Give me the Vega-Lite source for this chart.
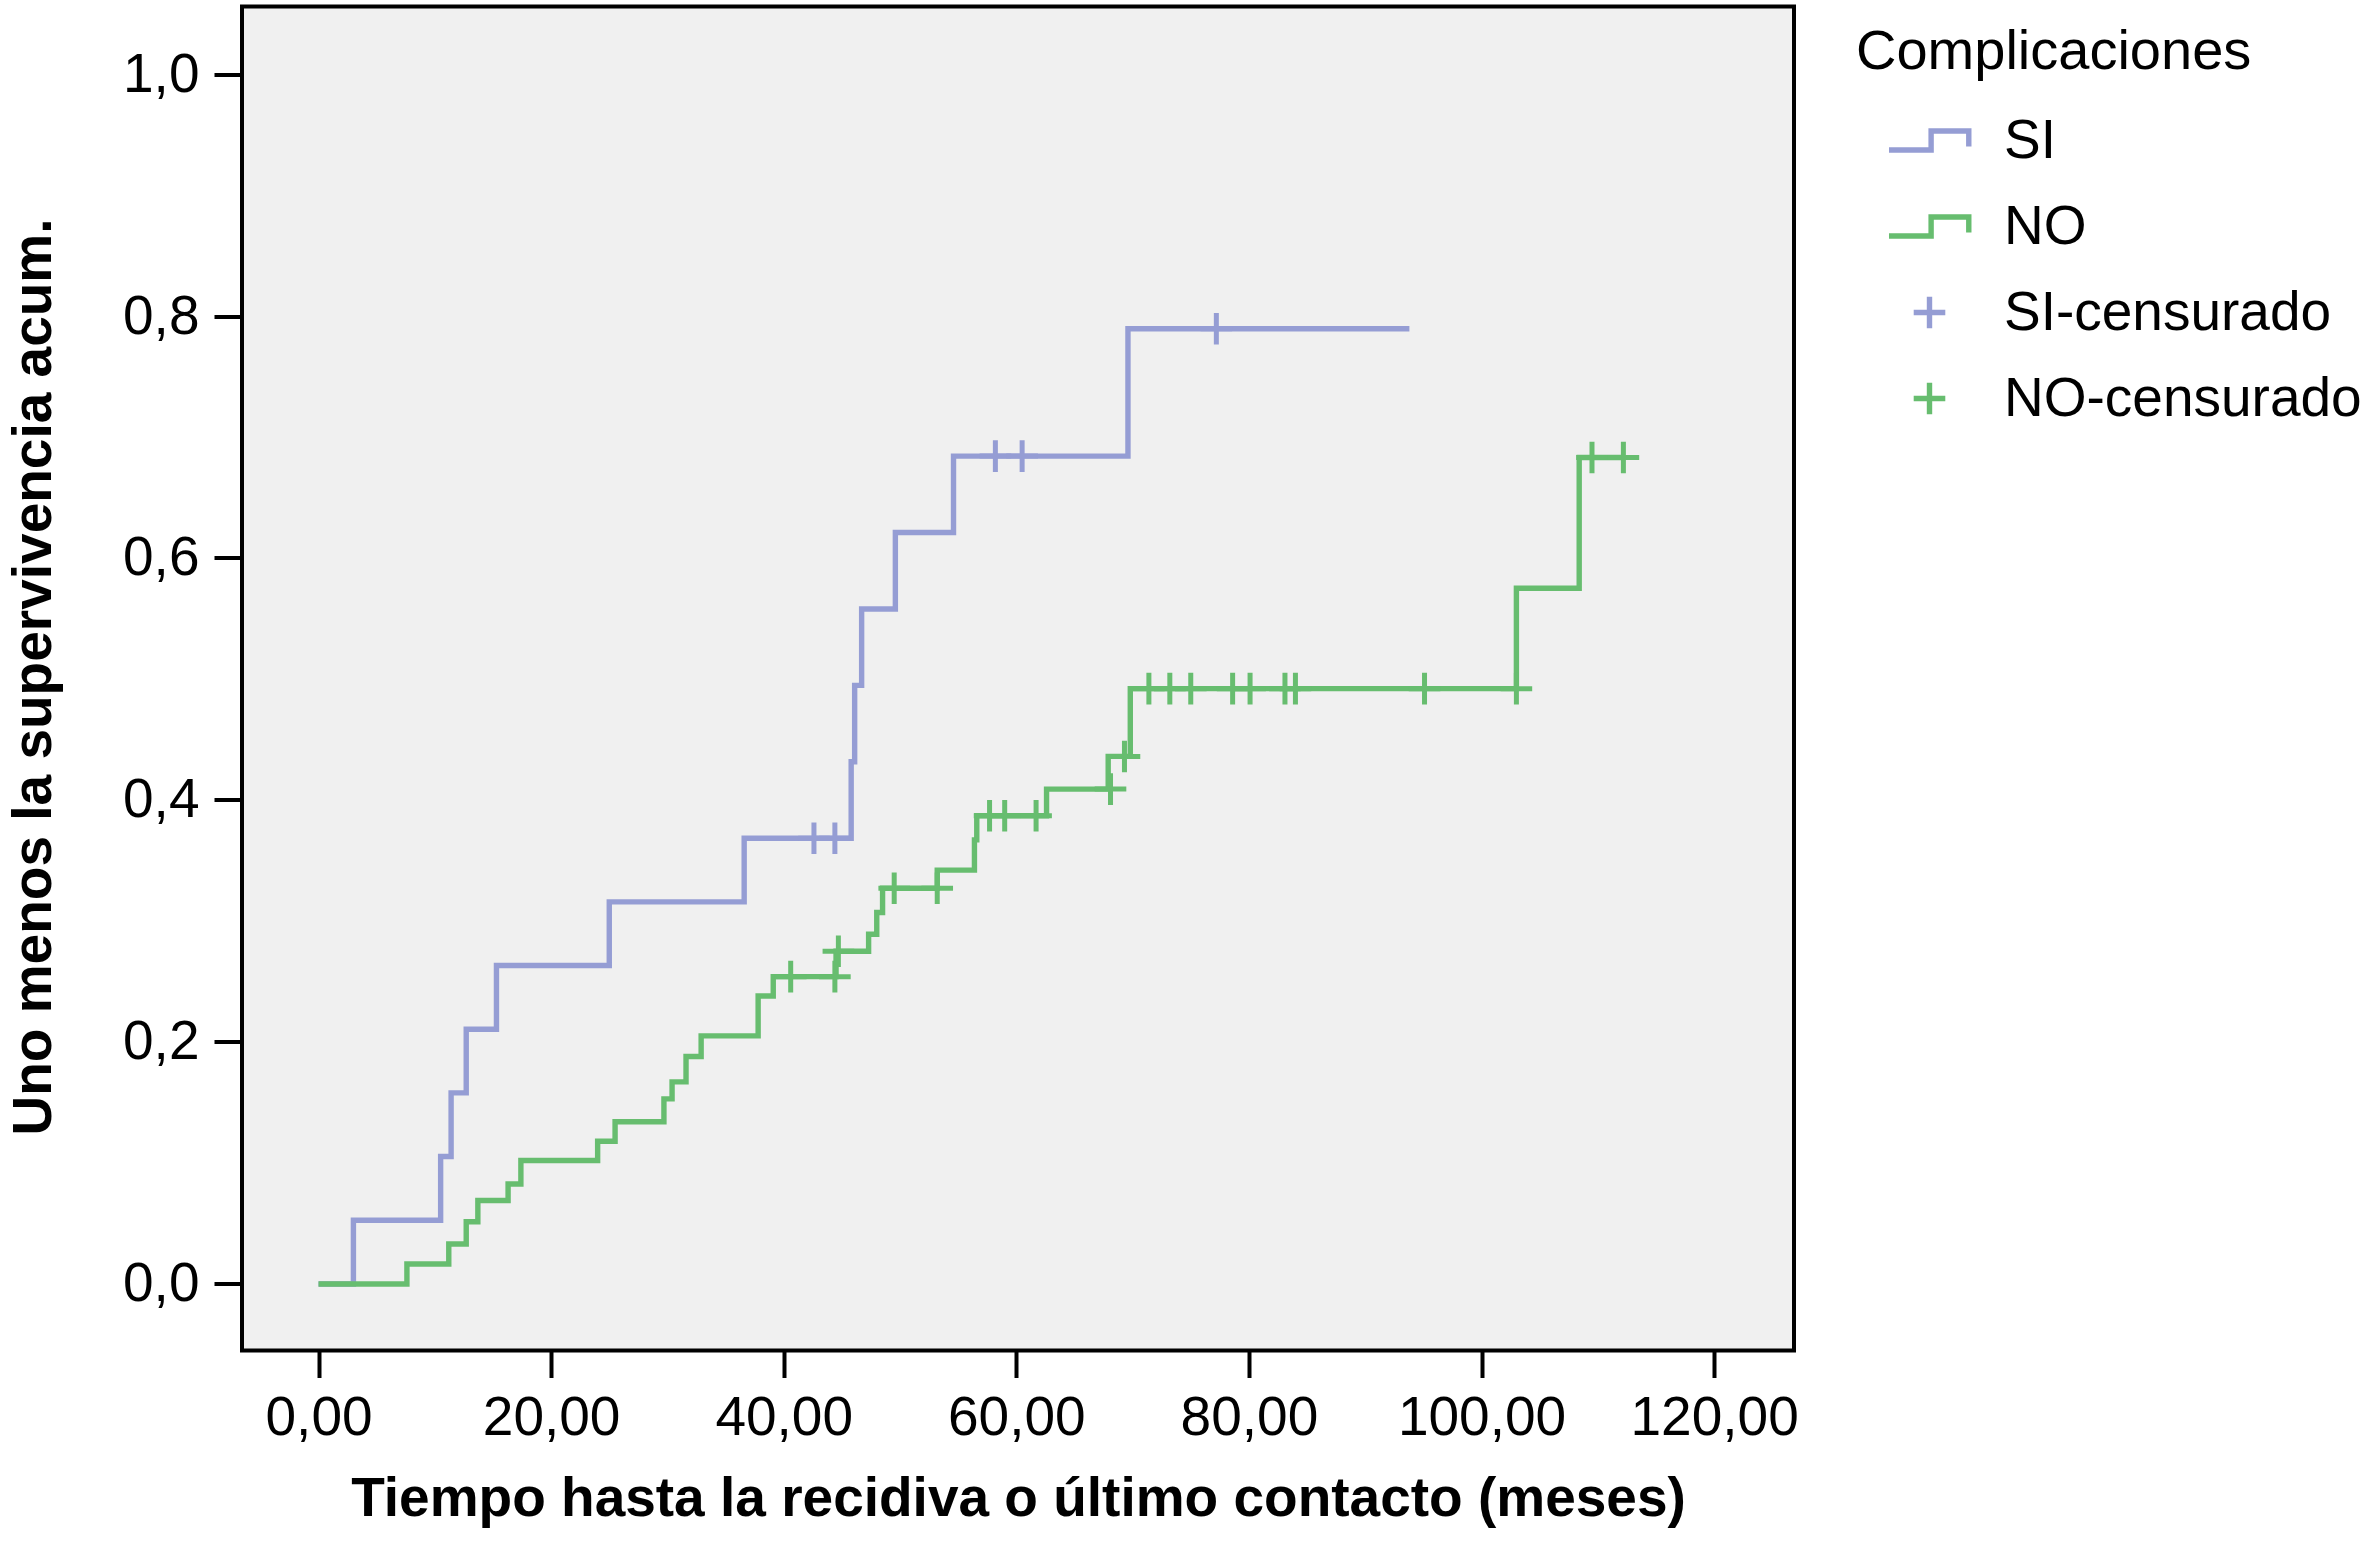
{
  "$schema": "https://vega.github.io/schema/vega-lite/v6.json",
  "autosize": {"type": "none"},
  "padding": {"left": 242, "top": 6.5, "right": 574, "bottom": 191.5},
  "width": 1552,
  "height": 1344,
  "background": "white",
  "datasets": {
    "curvas": [
      {"grupo": "SI", "t": 0, "v": 0},
      {"grupo": "SI", "t": 3.0, "v": 0.0526},
      {"grupo": "SI", "t": 10.5, "v": 0.1053},
      {"grupo": "SI", "t": 11.4, "v": 0.1579},
      {"grupo": "SI", "t": 12.7, "v": 0.2105},
      {"grupo": "SI", "t": 15.3, "v": 0.2632},
      {"grupo": "SI", "t": 25.0, "v": 0.3158},
      {"grupo": "SI", "t": 36.6, "v": 0.3684},
      {"grupo": "SI", "t": 45.8, "v": 0.4316},
      {"grupo": "SI", "t": 46.1, "v": 0.4947},
      {"grupo": "SI", "t": 46.7, "v": 0.5579},
      {"grupo": "SI", "t": 49.6, "v": 0.6211},
      {"grupo": "SI", "t": 54.6, "v": 0.6842},
      {"grupo": "SI", "t": 69.6, "v": 0.7895},
      {"grupo": "SI", "t": 93.8, "v": 0.7895},
      {"grupo": "NO", "t": 0, "v": 0},
      {"grupo": "NO", "t": 7.6, "v": 0.0165},
      {"grupo": "NO", "t": 11.2, "v": 0.033},
      {"grupo": "NO", "t": 12.7, "v": 0.0514},
      {"grupo": "NO", "t": 13.7, "v": 0.069},
      {"grupo": "NO", "t": 16.3, "v": 0.0826},
      {"grupo": "NO", "t": 17.4, "v": 0.102},
      {"grupo": "NO", "t": 24.0, "v": 0.118},
      {"grupo": "NO", "t": 25.5, "v": 0.134},
      {"grupo": "NO", "t": 29.7, "v": 0.153},
      {"grupo": "NO", "t": 30.4, "v": 0.167},
      {"grupo": "NO", "t": 31.6, "v": 0.188},
      {"grupo": "NO", "t": 32.9, "v": 0.205},
      {"grupo": "NO", "t": 37.8, "v": 0.238},
      {"grupo": "NO", "t": 39.1, "v": 0.254},
      {"grupo": "NO", "t": 44.5, "v": 0.275},
      {"grupo": "NO", "t": 47.3, "v": 0.289},
      {"grupo": "NO", "t": 48.0, "v": 0.307},
      {"grupo": "NO", "t": 48.5, "v": 0.327},
      {"grupo": "NO", "t": 53.2, "v": 0.342},
      {"grupo": "NO", "t": 56.4, "v": 0.367},
      {"grupo": "NO", "t": 56.6, "v": 0.387},
      {"grupo": "NO", "t": 62.6, "v": 0.409},
      {"grupo": "NO", "t": 67.9, "v": 0.436},
      {"grupo": "NO", "t": 69.8, "v": 0.492},
      {"grupo": "NO", "t": 103.0, "v": 0.575},
      {"grupo": "NO", "t": 108.4, "v": 0.683},
      {"grupo": "NO", "t": 112.2, "v": 0.683}
    ],
    "censuras": [
      {"leyenda": "SI-censurado", "t": 42.6, "v": 0.3684},
      {"leyenda": "SI-censurado", "t": 44.4, "v": 0.3684},
      {"leyenda": "SI-censurado", "t": 58.2, "v": 0.6842},
      {"leyenda": "SI-censurado", "t": 60.5, "v": 0.6842},
      {"leyenda": "SI-censurado", "t": 77.2, "v": 0.7895},
      {"leyenda": "NO-censurado", "t": 40.6, "v": 0.254},
      {"leyenda": "NO-censurado", "t": 44.4, "v": 0.254},
      {"leyenda": "NO-censurado", "t": 44.7, "v": 0.275},
      {"leyenda": "NO-censurado", "t": 49.5, "v": 0.327},
      {"leyenda": "NO-censurado", "t": 53.2, "v": 0.327},
      {"leyenda": "NO-censurado", "t": 57.7, "v": 0.387},
      {"leyenda": "NO-censurado", "t": 59.0, "v": 0.387},
      {"leyenda": "NO-censurado", "t": 61.7, "v": 0.387},
      {"leyenda": "NO-censurado", "t": 68.1, "v": 0.409},
      {"leyenda": "NO-censurado", "t": 69.3, "v": 0.436},
      {"leyenda": "NO-censurado", "t": 71.4, "v": 0.492},
      {"leyenda": "NO-censurado", "t": 73.2, "v": 0.492},
      {"leyenda": "NO-censurado", "t": 75.0, "v": 0.492},
      {"leyenda": "NO-censurado", "t": 78.6, "v": 0.492},
      {"leyenda": "NO-censurado", "t": 80.1, "v": 0.492},
      {"leyenda": "NO-censurado", "t": 83.1, "v": 0.492},
      {"leyenda": "NO-censurado", "t": 84.0, "v": 0.492},
      {"leyenda": "NO-censurado", "t": 95.1, "v": 0.492},
      {"leyenda": "NO-censurado", "t": 103.0, "v": 0.492},
      {"leyenda": "NO-censurado", "t": 109.5, "v": 0.683},
      {"leyenda": "NO-censurado", "t": 112.2, "v": 0.683}
    ]
  },
  "encoding": {
    "x": {
      "field": "t",
      "type": "quantitative",
      "scale": {"domain": [-6.58, 126.87], "nice": false, "zero": false},
      "axis": {
        "title": "Tiempo hasta la recidiva o último contacto (meses)",
        "values": [0, 20, 40, 60, 80, 100, 120],
        "labelExpr": "replace(format(datum.value, '.2f'), '.', ',')",
        "tickSize": 27,
        "labelPadding": 14,
        "titleBaseline": "alphabetic",
        "titleY": 164.5
      }
    },
    "y": {
      "field": "v",
      "type": "quantitative",
      "scale": {"domain": [-0.055, 1.0558], "nice": false, "zero": false},
      "axis": {
        "title": "Uno menos la supervivencia acum.",
        "values": [0, 0.2, 0.4, 0.6, 0.8, 1.0],
        "labelExpr": "replace(format(datum.value, '.1f'), '.', ',')",
        "tickSize": 28,
        "labelPadding": 15,
        "titleBaseline": "alphabetic",
        "titleAngle": -90,
        "titleX": -192,
        "titleY": 670
      }
    }
  },
  "layer": [
    {
      "data": {"name": "curvas"},
      "mark": {"type": "line", "interpolate": "step-after", "strokeWidth": 5.4, "strokeCap": "butt"},
      "encoding": {
        "stroke": {
          "field": "grupo",
          "type": "nominal",
          "scale": {"domain": ["SI", "NO"], "range": ["#959dd4", "#67bd6f"]},
          "legend": null
        }
      }
    },
    {
      "data": {"name": "censuras"},
      "mark": {"type": "point", "filled": false, "strokeWidth": 5, "size": 6561, "opacity": 1},
      "encoding": {
        "color": {
          "field": "leyenda",
          "type": "nominal",
          "scale": {
            "domain": ["SI", "NO", "SI-censurado", "NO-censurado"],
            "range": ["#959dd4", "#67bd6f", "#959dd4", "#67bd6f"]
          },
          "legend": {
            "title": "Complicaciones",
            "orient": "none",
            "legendX": 1614,
            "legendY": 18.5
          }
        },
        "shape": {
          "field": "leyenda",
          "type": "nominal",
          "scale": {
            "domain": ["SI", "NO", "SI-censurado", "NO-censurado"],
            "range": [
              "M-1,0.234H0.04V-0.234H0.97V0.15",
              "M-1,0.234H0.04V-0.234H0.97V0.15",
              "M-0.39,0H0.39M0,-0.39V0.39",
              "M-0.39,0H0.39M0,-0.39V0.39"
            ]
          },
          "legend": {
            "title": "Complicaciones",
            "orient": "none",
            "legendX": 1614,
            "legendY": 18.5
          }
        }
      }
    }
  ],
  "config": {
    "font": "Liberation Sans",
    "view": {"fill": "#f0f0f0", "stroke": "black", "strokeWidth": 4},
    "axis": {
      "grid": false,
      "domain": false,
      "tickColor": "black",
      "tickWidth": 4,
      "labelFont": "Liberation Sans",
      "labelFontSize": 55,
      "labelColor": "black",
      "titleFont": "Liberation Sans",
      "titleFontSize": 55,
      "titleFontWeight": "bold",
      "titleColor": "black",
      "labelOverlap": false,
      "labelFlush": false
    },
    "legend": {
      "titleFont": "Liberation Sans",
      "titleFontSize": 56,
      "titleFontWeight": "normal",
      "titleColor": "black",
      "titleLimit": 800,
      "labelFont": "Liberation Sans",
      "labelFontSize": 55,
      "labelColor": "black",
      "symbolSize": 6561,
      "symbolStrokeWidth": 5.4,
      "symbolOffset": 30,
      "labelOffset": 31,
      "rowPadding": 14,
      "titlePadding": 16,
      "padding": 0,
      "labelLimit": 600
    }
  }
}
